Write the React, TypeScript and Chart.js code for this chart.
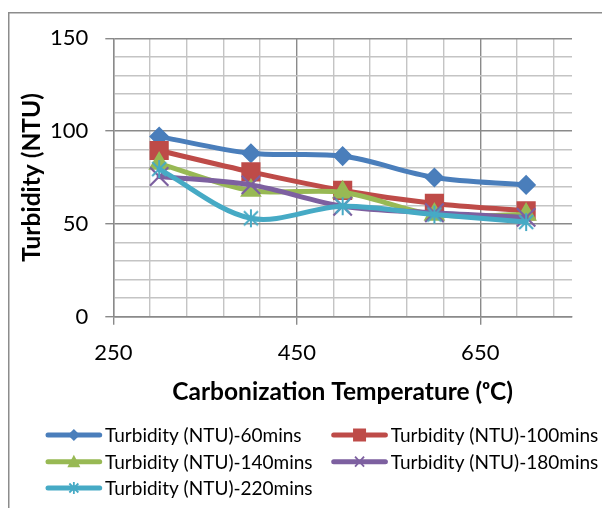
import React, { useEffect, useRef } from 'react';
import { Chart, registerables } from 'chart.js';

Chart.register(...registerables);

// ---- data ----
const temperatures = [300, 400, 500, 600, 700];
const turbidity60 = [97, 88, 86.5, 75, 71];
const turbidity100 = [89.5, 78, 68, 61, 57];
const turbidity140 = [82.5, 68, 67, 55, 55];
const turbidity180 = [75.5, 71, 59.5, 56, 53.5];
const turbidity220 = [79.5, 53, 59.5, 55, 51];
const seriesLabels = [
  'Turbidity (NTU)-60mins',
  'Turbidity (NTU)-100mins',
  'Turbidity (NTU)-140mins',
  'Turbidity (NTU)-180mins',
  'Turbidity (NTU)-220mins',
];
const xTickLabels = [250, 450, 650];
const yTickLabels = [0, 50, 100, 150];

// ---- styles ----
const seriesColors = ['#4A7EBB', '#BE4B48', '#98B954', '#7D60A0', '#46AAC5'];
const FONT = 'Lato';
const MAJOR = '#8a8a8a';
const MINOR = '#c4c4c4';
const X_MIN = 250, X_MAX = 750, X_MINOR = 40;
const Y_MIN = 0, Y_MAX = 150, Y_MINOR = 10;
const TITLE_SIZE = 24.5;
const LEGEND_SIZE = 19;

function makeStar(color: string) {
  const c = document.createElement('canvas');
  c.width = 20; c.height = 20;
  const g = c.getContext('2d')!;
  g.strokeStyle = color; g.lineWidth = 2;
  g.beginPath();
  g.moveTo(3, 3); g.lineTo(17, 17);
  g.moveTo(17, 3); g.lineTo(3, 17);
  g.moveTo(10, 1); g.lineTo(10, 19);
  g.stroke();
  return c;
}

const borderPlugin = {
  id: 'outerBorder',
  beforeDraw(chart: any) {
    const ctx = chart.ctx;
    ctx.save();
    ctx.strokeStyle = '#8c8c8c';
    ctx.lineWidth = 1.5;
    ctx.strokeRect(0.75, 4.75, chart.width - 2.5, chart.height + 20);
    ctx.restore();
  },
};

function drawLegendMarker(ctx: CanvasRenderingContext2D, kind: number, x: number, y: number, color: string) {
  ctx.fillStyle = color;
  ctx.strokeStyle = color;
  ctx.beginPath();
  if (kind === 0) {
    ctx.moveTo(x, y - 6); ctx.lineTo(x + 6, y); ctx.lineTo(x, y + 6); ctx.lineTo(x - 6, y); ctx.closePath(); ctx.fill();
  } else if (kind === 1) {
    ctx.rect(x - 6.5, y - 6.5, 13, 13); ctx.fill();
  } else if (kind === 2) {
    ctx.moveTo(x, y - 7); ctx.lineTo(x + 6.5, y + 5.5); ctx.lineTo(x - 6.5, y + 5.5); ctx.closePath(); ctx.fill();
  } else if (kind === 3) {
    ctx.lineWidth = 1.8;
    ctx.moveTo(x - 4.5, y - 5); ctx.lineTo(x + 4.5, y + 5);
    ctx.moveTo(x + 4.5, y - 5); ctx.lineTo(x - 4.5, y + 5);
    ctx.stroke();
  } else {
    ctx.lineWidth = 1.8;
    ctx.moveTo(x - 4.5, y - 4.5); ctx.lineTo(x + 4.5, y + 4.5);
    ctx.moveTo(x + 4.5, y - 4.5); ctx.lineTo(x - 4.5, y + 4.5);
    ctx.moveTo(x, y - 6); ctx.lineTo(x, y + 6);
    ctx.stroke();
  }
}

const legendPlugin = {
  id: 'excelLegend',
  afterDraw(chart: any) {
    const ctx: CanvasRenderingContext2D = chart.ctx;
    const colX = [38, 323.7];
    const lineLen = 55.7;
    const rowY = [427, 453.7, 480];
    ctx.save();
    chart.data.datasets.forEach((ds: any, i: number) => {
      const col = i % 2;
      const row = Math.floor(i / 2);
      const x0 = colX[col];
      const y = rowY[row];
      const color = seriesColors[i];
      ctx.strokeStyle = color;
      ctx.lineWidth = 5;
      ctx.lineCap = 'round';
      ctx.beginPath();
      ctx.moveTo(x0 + 2, y);
      ctx.lineTo(x0 + lineLen - 2, y);
      ctx.stroke();
      ctx.lineCap = 'butt';
      drawLegendMarker(ctx, i, x0 + lineLen / 2, y, color);
      ctx.fillStyle = '#000';
      ctx.font = `${LEGEND_SIZE}px ${FONT}`;
      ctx.textBaseline = 'middle';
      ctx.textAlign = 'left';
      ctx.fillText(ds.label, x0 + lineLen + 3.3, y + 1);
    });
    ctx.restore();
  },
};

export default function App() {
  const canvasRef = useRef<HTMLCanvasElement>(null);

  useEffect(() => {
    if (!canvasRef.current) return;
    const seriesValues = [turbidity60, turbidity100, turbidity140, turbidity180, turbidity220];
    const markerStyles: any[] = ['rectRot', 'rect', 'triangle', 'crossRot', makeStar(seriesColors[4])];
    const markerRadii = [9, 12.5, 11, 13, 10];

    const datasets = seriesValues.map((vals, i) => ({
      label: seriesLabels[i],
      data: temperatures.map((t, j) => ({ x: t, y: vals[j] })),
      borderColor: seriesColors[i],
      backgroundColor: seriesColors[i],
      borderWidth: 5,
      tension: 0.33,
      borderJoinStyle: 'round' as const,
      borderCapStyle: 'round' as const,
      pointStyle: markerStyles[i],
      pointRadius: markerRadii[i],
      pointBorderWidth: i === 3 ? 2.2 : 1.5,
      pointBackgroundColor: seriesColors[i],
      pointBorderColor: seriesColors[i],
      order: seriesValues.length - i,
      clip: false as any,
    }));

    const gridColor = (c: any) => {
      const v = c.tick ? c.tick.value : 0;
      return (c.scale.axis === 'x' ? xTickLabels : yTickLabels).includes(v) ? MAJOR : MINOR;
    };
    const tickColor = (c: any) => {
      const v = c.tick ? c.tick.value : 0;
      return (c.scale.axis === 'x' ? xTickLabels : yTickLabels).includes(v) ? MAJOR : 'rgba(0,0,0,0)';
    };

    const chart = new Chart(canvasRef.current, {
      type: 'line',
      data: { datasets },
      options: {
        animation: false,
        responsive: true,
        maintainAspectRatio: false,
        events: [],
        layout: { padding: { left: 0, right: 38, top: 28.7, bottom: 101.3 } },
        plugins: { legend: { display: false }, tooltip: { enabled: false }, title: { display: false } },
        scales: {
          x: {
            type: 'linear',
            min: X_MIN,
            max: X_MAX,
            afterBuildTicks: (s: any) => {
              const t: any[] = [];
              for (let v = X_MIN; v < X_MAX; v += X_MINOR) t.push({ value: v });
              s.ticks = t;
            },
            afterFit: (s: any) => { s.height = 90; },
            ticks: {
              autoSkip: false,
              maxRotation: 0,
              padding: 15,
              color: '#000',
              font: { family: FONT, size: 22 },
              callback: (v: any) => (xTickLabels.includes(Number(v)) ? String(v) : ''),
            },
            grid: { color: gridColor, lineWidth: 1.4, tickColor, tickLength: 8, drawTicks: true },
            border: { color: MAJOR, width: 1.4 },
            title: {
              display: true,
              text: 'Carbonization Temperature (ᵒC)',
              color: '#000',
              font: { family: FONT, size: TITLE_SIZE, weight: 'bold' },
              padding: { top: 0, bottom: 0 },
            },
          },
          y: {
            type: 'linear',
            min: Y_MIN,
            max: Y_MAX,
            afterBuildTicks: (s: any) => {
              const t: any[] = [];
              for (let v = Y_MIN; v <= Y_MAX; v += Y_MINOR) t.push({ value: v });
              s.ticks = t;
            },
            afterFit: (s: any) => { s.width = 105.3; },
            ticks: {
              autoSkip: false,
              padding: 17,
              color: '#000',
              font: { family: FONT, size: 22 },
              callback: (v: any) => (yTickLabels.includes(Number(v)) ? String(v) : ''),
            },
            grid: { color: gridColor, lineWidth: 1.4, tickColor, tickLength: 8, drawTicks: true },
            border: { color: MAJOR, width: 1.4 },
            title: {
              display: true,
              text: 'Turbidity (NTU)',
              color: '#000',
              font: { family: FONT, size: TITLE_SIZE, weight: 'bold' },
              padding: { top: 9.3, bottom: 0 },
            },
          },
        },
      },
      plugins: [borderPlugin, legendPlugin],
    });

    let alive = true;
    if ((document as any).fonts) {
      Promise.all([
        (document as any).fonts.load(`22px ${FONT}`),
        (document as any).fonts.load(`bold ${TITLE_SIZE}px ${FONT}`),
        (document as any).fonts.load(`${LEGEND_SIZE}px ${FONT}`),
      ]).then(() => { if (alive) chart.update(); }).catch(() => {});
    }

    return () => { alive = false; chart.destroy(); };
  }, []);

  return (
    <div style={{ position: 'relative', width: 602, height: 500 }}>
      <canvas ref={canvasRef} />
    </div>
  );
}
